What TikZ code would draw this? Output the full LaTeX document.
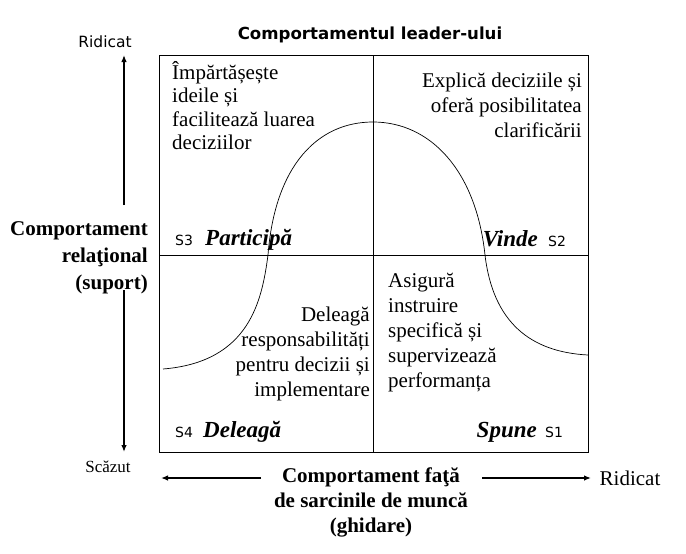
\documentclass[tikz,border=0pt]{standalone}
\usepackage{fontspec}
\setmainfont{Liberation Serif}
\newfontfamily\sansf{DejaVu Sans}
\usetikzlibrary{arrows.meta}
\begin{document}
\begin{tikzpicture}[x=1pt,y=-1pt,
  box/.style={line width=0.9pt},
  axis/.style={line width=1.3pt,-{Latex[length=7pt,width=5.5pt]}},
  qtext/.style={font=\fontsize{21}{25}\selectfont, inner sep=0pt},
  stylab/.style={font=\fontsize{23}{26}\selectfont\bfseries\itshape, inner sep=0pt},
  slab/.style={font=\sansf\fontsize{14}{16}\selectfont, inner sep=0pt},
  axlab/.style={font=\bfseries\fontsize{21}{27}\selectfont, inner sep=0pt},
  curve/.style={line width=0.7pt}
  ]
\useasboundingbox (0,0) rectangle (686,554);
% grid
\draw[box] (159,55) rectangle (588,452);
\draw[box] (373,55) -- (373,452);
\draw[box] (159,255) -- (588,255);
% curve
\draw[curve] (163,369) .. controls (250,362) and (262,300) .. (268,255)
  .. controls (275,165) and (318,122) .. (373,122)
  .. controls (430,122) and (476,170) .. (485,255)
  .. controls (493,322) and (530,352) .. (588,355);
% title
\node[font=\sansf\bfseries\fontsize{16.6}{20}\selectfont, inner sep=0pt] (title) at (370,35) {Comportamentul leader-ului};
% quadrant texts
\node[qtext, align=left, anchor=north west, font=\fontsize{21}{23.5}\selectfont] (tl) at (172,61) {Împărtășește\\ideile și\\facilitează luarea\\deciziilor};
\node[qtext, align=right, anchor=north east] (tr) at (582,73) {Explică deciziile și\\oferă posibilitatea\\clarificării};
\node[qtext, align=right, anchor=north east] (bl) at (370,307) {Deleagă\\responsabilități\\pentru decizii și\\implementare};
\node[qtext, align=left, anchor=north west] (br) at (388,273) {Asigură\\instruire\\specifică și\\supervizează\\performanța};
% style labels
\node[slab, anchor=base west] (s3) at (175,245) {S3};
\node[stylab, anchor=base west] (part) at (205,245) {Participă};
\node[stylab, anchor=base east] (vinde) at (538,246) {Vinde};
\node[slab, anchor=base west] (s2) at (548,246) {S2};
\node[slab, anchor=base west] (s4) at (175,437) {S4};
\node[stylab, anchor=base west] (deleaga) at (203,437) {Deleagă};
\node[stylab, anchor=base east] (spune) at (537,437) {Spune};
\node[slab, anchor=base west] (s1) at (545,437) {S1};
% vertical axis
\node[axlab, align=right, anchor=north east] (rel) at (148,221) {Comportament\\relaţional\\(suport)};
\node[font=\sansf\fontsize{15.5}{18}\selectfont, inner sep=0pt] (vhigh) at (105,42) {Ridicat};
\node[font=\fontsize{17}{20}\selectfont, inner sep=0pt] (vlow) at (108,467) {Scăzut};
\coordinate (vup1) at (124,205);
\coordinate (vup2) at (124,55);
\coordinate (vdn1) at (124,290);
\coordinate (vdn2) at (124,452);
\draw[axis] (vup1) -- (vup2);
\draw[axis] (vdn1) -- (vdn2);
% horizontal axis
\node[axlab, align=center, anchor=north, font=\bfseries\fontsize{21}{25}\selectfont] (task) at (371,467) {Comportament faţă\\de sarcinile de muncă\\(ghidare)};
\node[font=\fontsize{21}{24}\selectfont, inner sep=0pt] (hhigh) at (630,478) {Ridicat};
\coordinate (hl1) at (261,478);
\coordinate (hl2) at (161,478);
\coordinate (hr1) at (482,478);
\coordinate (hr2) at (591,478);
\draw[axis] (hl1) -- (hl2);
\draw[axis] (hr1) -- (hr2);
\end{tikzpicture}
\end{document}
